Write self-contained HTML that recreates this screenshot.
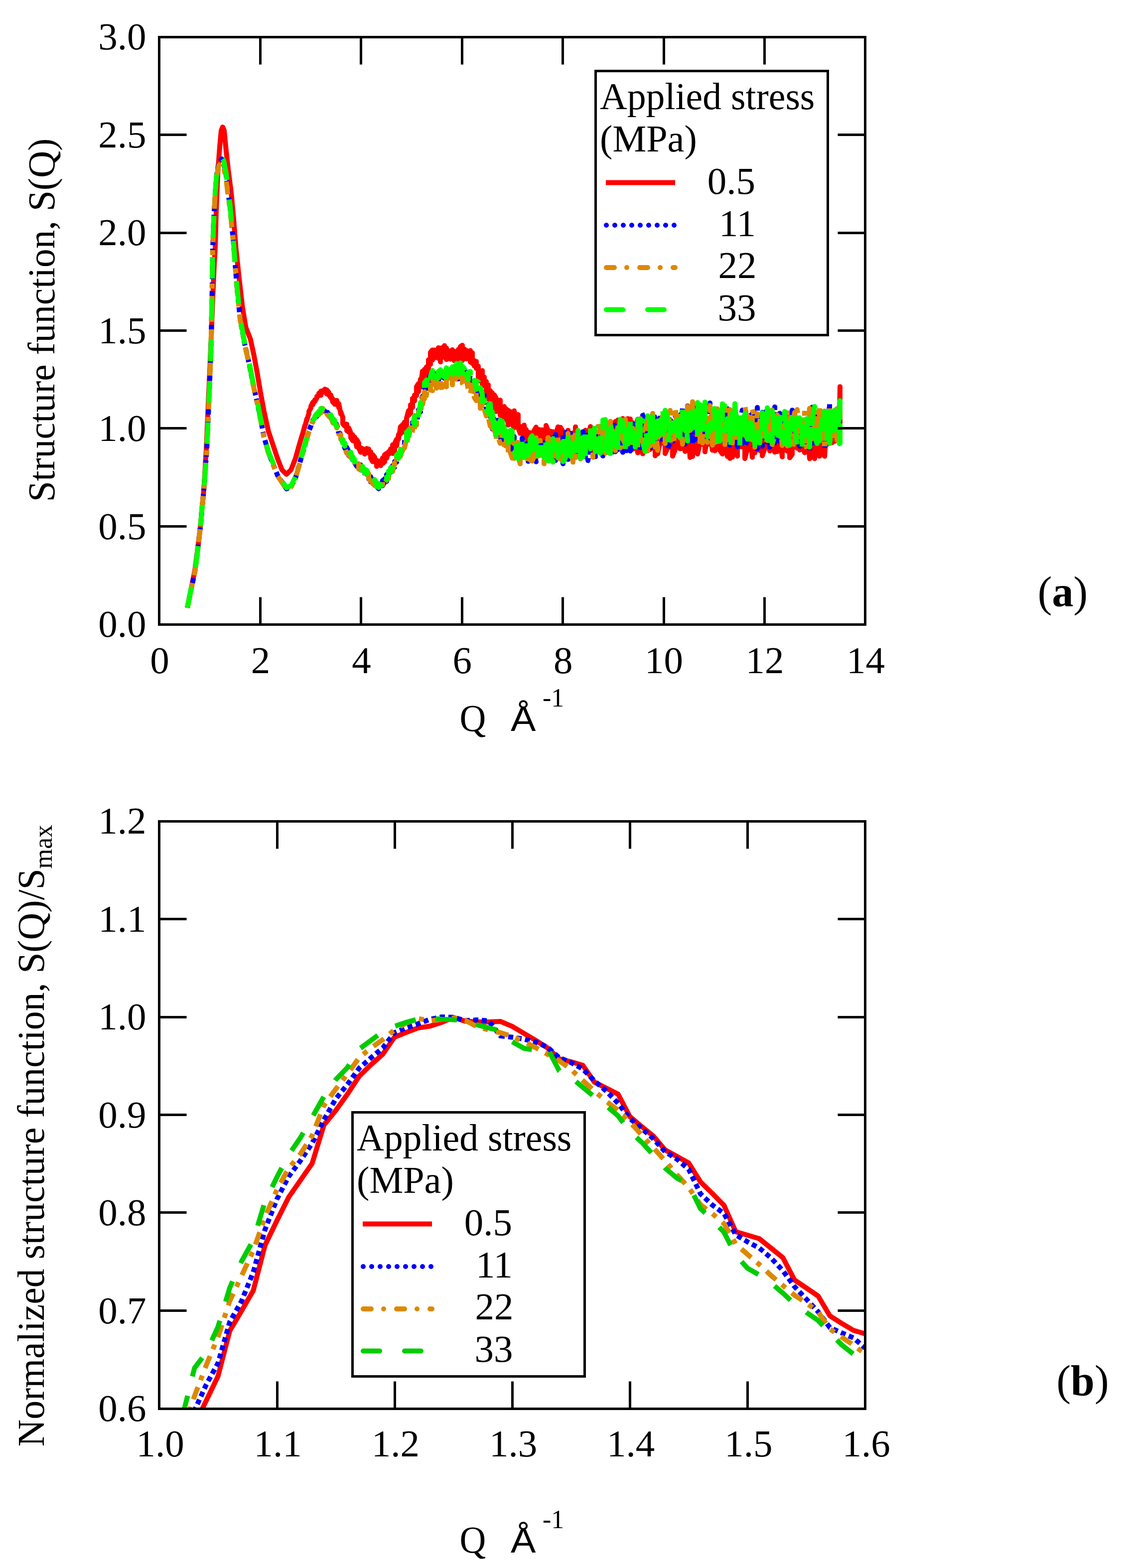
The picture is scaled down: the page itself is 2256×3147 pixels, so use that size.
<!DOCTYPE html><html><head><meta charset="utf-8"><title>S(Q)</title><style>html,body{margin:0;padding:0;background:#fff;overflow:hidden}svg{display:block}text{font-family:"Liberation Serif","Times New Roman",serif;fill:#000}</style></head><body>
<svg width="2256" height="3147" viewBox="0 0 2256 3147">
<defs><clipPath id="clipb"><rect x="319.5" y="1648.5" width="1417.0" height="1179.0"/></clipPath></defs>
<rect width="2256" height="3147" fill="#fff"/>
<path d="M376.0 1220.0 L379.0 1205.0 L383.0 1185.0 L387.0 1165.0 L391.0 1145.0 L395.0 1115.0 L399.5 1080.0 L403.0 1050.0 L405.5 1020.0 L408.5 990.0 L410.7 960.0 L412.2 930.0 L414.0 903.0 L418.5 800.0 L423.0 700.0 L427.0 600.0 L430.0 530.0 L432.0 497.0 L434.0 423.0 L437.0 349.0 L441.0 294.0 L444.0 262.0 L447.0 255.0 L450.0 262.0 L453.0 294.0 L458.0 340.0 L464.0 386.0 L469.0 440.0 L473.5 497.0 L479.8 557.0 L486.6 616.0 L493.4 657.0 L502.5 680.0 L509.3 711.0 L516.2 748.0 L523.0 788.0 L529.8 825.0 L538.9 866.0 L548.0 893.0 L557.0 920.0 L566.0 943.0 L575.0 952.0 L584.0 943.0 L593.0 920.0 L600.0 895.1 L604.0 881.5 L608.0 868.4 L612.0 853.7 L612.0 856.2 L616.0 840.3 L616.0 843.2 L620.0 829.4 L620.0 825.8 L624.0 818.8 L624.0 815.7 L628.0 807.3 L628.0 812.0 L632.0 802.3 L632.0 805.6 L636.0 798.6 L636.0 795.6 L640.0 793.8 L640.0 789.3 L644.0 793.5 L644.0 785.0 L648.0 787.5 L648.0 784.0 L652.0 785.5 L652.0 781.0 L656.0 791.0 L656.0 782.6 L660.0 787.7 L660.0 792.4 L664.0 798.3 L664.0 792.7 L668.0 807.3 L668.0 800.8 L672.0 811.5 L672.0 803.8 L676.0 811.3 L676.0 803.7 L680.0 818.3 L680.0 810.4 L684.0 830.7 L684.0 826.8 L688.0 837.6 L688.0 850.8 L692.0 855.0 L692.0 850.9 L696.0 851.5 L696.0 864.2 L700.0 867.1 L700.0 858.9 L704.0 868.4 L704.0 878.5 L708.0 884.4 L708.0 872.8 L712.0 884.8 L712.0 877.4 L716.0 896.9 L716.0 882.3 L720.0 889.4 L720.0 899.2 L724.0 907.8 L724.0 898.8 L728.0 900.5 L728.0 907.0 L732.0 902.4 L732.0 911.4 L736.0 900.1 L736.0 904.8 L740.0 901.2 L740.0 909.4 L744.0 906.6 L744.0 919.7 L748.0 926.5 L748.0 912.4 L752.0 917.5 L752.0 927.0 L756.0 923.7 L756.0 936.1 L760.0 931.5 L760.0 926.1 L764.0 925.1 L764.0 934.4 L768.0 918.8 L768.0 930.3 L772.0 926.9 L772.0 912.6 L776.0 910.0 L776.0 919.5 L780.0 906.3 L780.0 911.8 L784.0 908.9 L784.0 900.9 L788.0 910.2 L788.0 892.8 L792.0 904.4 L792.0 890.1 L796.0 881.7 L796.0 894.7 L800.0 871.8 L800.0 880.8 L804.0 856.0 L804.0 870.5 L808.0 852.1 L808.0 867.2 L812.0 847.0 L812.0 863.4 L816.0 852.1 L816.0 839.0 L820.0 824.2 L820.0 833.7 L824.0 829.3 L824.0 812.6 L828.0 817.7 L828.0 799.5 L832.0 804.8 L832.0 793.0 L836.0 793.9 L836.0 776.0 L840.0 769.8 L840.0 785.9 L844.0 761.1 L844.0 776.3 L848.0 744.9 L848.0 767.8 L852.0 741.3 L852.0 761.2 L856.0 736.2 L856.0 753.1 L860.0 744.2 L860.0 722.3 L864.0 731.1 L864.0 707.0 L868.0 702.4 L868.0 722.6 L872.0 702.5 L872.0 718.5 L876.0 714.8 L876.0 705.1 L880.0 719.0 L880.0 697.9 L884.0 726.2 L884.0 699.3 L888.0 697.7 L888.0 717.4 L892.0 713.2 L892.0 693.8 L896.0 721.6 L896.0 698.5 L900.0 711.9 L900.0 703.9 L904.0 720.8 L904.0 705.6 L908.0 702.0 L908.0 716.3 L912.0 705.1 L912.0 724.1 L916.0 705.9 L916.0 714.0 L920.0 720.3 L920.0 701.3 L924.0 725.6 L924.0 695.7 L928.0 693.0 L928.0 723.5 L932.0 700.6 L932.0 712.5 L936.0 703.0 L936.0 720.4 L940.0 718.5 L940.0 707.9 L944.0 703.5 L944.0 726.6 L948.0 708.2 L948.0 729.4 L952.0 723.7 L952.0 734.7 L956.0 725.4 L956.0 739.7 L960.0 734.8 L960.0 757.5 L964.0 746.4 L964.0 764.6 L968.0 743.8 L968.0 774.3 L972.0 756.8 L972.0 769.7 L976.0 765.6 L976.0 790.2 L980.0 772.6 L980.0 801.0 L984.0 784.0 L984.0 798.0 L988.0 788.4 L988.0 812.5 L992.0 821.9 L992.0 792.4 L996.0 799.7 L996.0 825.9 L1000.0 819.9 L1000.0 813.1 L1004.0 803.1 L1004.0 833.4 L1008.0 820.6 L1008.0 839.2 L1012.0 834.9 L1012.0 815.9 L1016.0 841.9 L1016.0 821.0 L1020.0 853.0 L1020.0 823.4 L1024.0 839.6 L1024.0 826.1 L1028.0 830.0 L1028.0 851.0 L1032.0 858.6 L1032.0 824.6 L1036.0 841.9 L1036.0 850.3 L1040.0 832.1 L1040.0 858.7 L1044.0 869.9 L1044.0 855.7 L1048.0 859.1 L1048.0 867.8 L1052.0 875.8 L1052.0 853.2 L1056.0 879.6 L1056.0 862.3 L1060.0 891.4 L1060.0 867.6 L1064.0 895.3 L1064.0 868.5 L1068.0 869.1 L1068.0 884.9 L1072.0 891.6 L1072.0 864.3 L1076.0 857.3 L1076.0 884.8 L1080.0 861.8 L1080.0 898.8 L1084.0 862.6 L1084.0 883.8 L1088.0 862.7 L1088.0 894.1 L1092.0 899.5 L1092.0 872.8 L1096.0 899.6 L1096.0 854.0 L1100.0 864.3 L1100.0 885.4 L1105.0 896.1 L1105.0 865.5 L1110.0 887.1 L1110.0 866.5 L1115.0 893.1 L1115.0 872.5 L1120.0 856.8 L1120.0 900.2 L1125.0 907.1 L1125.0 857.8 L1130.0 866.3 L1130.0 890.6 L1135.0 872.4 L1135.0 901.4 L1140.0 863.7 L1140.0 899.1 L1145.0 870.0 L1145.0 912.6 L1150.0 869.1 L1150.0 909.4 L1155.0 896.3 L1155.0 856.8 L1160.0 905.3 L1160.0 873.1 L1165.0 894.4 L1165.0 871.7 L1170.0 899.0 L1170.0 870.7 L1175.0 863.5 L1175.0 893.0 L1180.0 890.8 L1180.0 873.7 L1185.0 856.0 L1185.0 907.5 L1190.0 866.9 L1190.0 906.3 L1195.0 907.0 L1195.0 870.1 L1200.0 894.9 L1200.0 867.6 L1205.0 869.5 L1205.0 891.1 L1210.0 898.7 L1210.0 853.9 L1215.0 850.7 L1215.0 900.2 L1220.0 862.7 L1220.0 886.4 L1225.0 856.5 L1225.0 898.0 L1230.0 855.7 L1230.0 901.6 L1235.0 846.0 L1235.0 906.4 L1240.0 843.0 L1240.0 884.0 L1245.0 859.1 L1245.0 899.9 L1250.0 840.1 L1250.0 893.1 L1255.0 846.7 L1255.0 882.6 L1260.0 840.3 L1260.0 887.2 L1265.0 900.6 L1265.0 840.9 L1270.0 901.4 L1270.0 848.6 L1275.0 889.3 L1275.0 852.1 L1280.0 908.7 L1280.0 844.4 L1285.0 861.0 L1285.0 885.8 L1290.0 860.4 L1290.0 910.7 L1295.0 885.2 L1295.0 865.0 L1300.0 869.6 L1300.0 886.0 L1305.0 901.9 L1305.0 863.6 L1310.0 892.2 L1310.0 857.7 L1315.0 848.2 L1315.0 914.7 L1320.0 854.4 L1320.0 910.8 L1325.0 887.3 L1325.0 870.3 L1330.0 866.0 L1330.0 889.3 L1335.0 864.7 L1335.0 910.2 L1340.0 898.7 L1340.0 865.9 L1345.0 897.4 L1345.0 854.5 L1350.0 853.4 L1350.0 915.5 L1355.0 902.7 L1355.0 861.4 L1360.0 891.5 L1360.0 862.6 L1365.0 856.8 L1365.0 900.8 L1370.0 853.8 L1370.0 900.0 L1375.0 852.2 L1375.0 906.0 L1380.0 896.9 L1380.0 845.0 L1385.0 918.1 L1385.0 873.6 L1390.0 916.1 L1390.0 845.8 L1395.0 907.7 L1395.0 851.3 L1400.0 858.1 L1400.0 911.2 L1405.0 888.9 L1405.0 845.2 L1410.0 848.1 L1410.0 891.8 L1415.0 863.4 L1415.0 906.8 L1420.0 872.8 L1420.0 892.2 L1425.0 888.9 L1425.0 872.4 L1430.0 903.6 L1430.0 871.3 L1435.0 859.7 L1435.0 904.6 L1440.0 847.8 L1440.0 901.3 L1445.0 846.1 L1445.0 903.8 L1450.0 911.1 L1450.0 860.7 L1455.0 859.0 L1455.0 899.5 L1460.0 916.1 L1460.0 847.2 L1465.0 920.0 L1465.0 853.3 L1470.0 917.4 L1470.0 868.3 L1475.0 861.2 L1475.0 901.3 L1480.0 915.4 L1480.0 866.6 L1485.0 866.4 L1485.0 896.2 L1490.0 896.9 L1490.0 876.8 L1495.0 870.8 L1495.0 920.2 L1500.0 900.9 L1500.0 875.6 L1505.0 901.7 L1505.0 860.2 L1510.0 917.7 L1510.0 848.7 L1515.0 862.4 L1515.0 909.1 L1520.0 893.4 L1520.0 861.8 L1525.0 878.7 L1525.0 904.2 L1530.0 873.8 L1530.0 914.8 L1535.0 899.6 L1535.0 859.3 L1540.0 897.6 L1540.0 859.7 L1545.0 905.0 L1545.0 860.5 L1550.0 863.2 L1550.0 897.7 L1555.0 907.4 L1555.0 853.9 L1560.0 906.3 L1560.0 869.9 L1565.0 903.0 L1565.0 875.8 L1570.0 916.9 L1570.0 850.9 L1575.0 871.7 L1575.0 903.1 L1580.0 853.8 L1580.0 905.4 L1585.0 857.0 L1585.0 918.8 L1590.0 911.9 L1590.0 853.6 L1595.0 896.8 L1595.0 853.6 L1600.0 899.6 L1600.0 870.8 L1605.0 903.1 L1605.0 870.7 L1610.0 864.2 L1610.0 895.5 L1615.0 908.5 L1615.0 860.1 L1620.0 904.7 L1620.0 850.7 L1625.0 920.6 L1625.0 864.6 L1630.0 904.1 L1630.0 869.8 L1635.0 852.6 L1635.0 920.5 L1640.0 897.1 L1640.0 853.4 L1645.0 915.6 L1645.0 871.6 L1650.0 865.5 L1650.0 899.7 L1655.0 841.4 L1655.0 915.8 L1660.0 847.1 L1660.0 891.9 L1665.0 880.9 L1665.0 866.9 L1670.0 888.5 L1670.0 856.0 L1675.0 840.3 L1675.0 885.8 L1680.0 849.4 L1680.0 882.9 L1685.0 873.6 L1685.0 831.6 L1686.0 776.0 L1686.0 850.0" stroke="#ff0000" fill="none" stroke-width="10" stroke-linejoin="round" stroke-linecap="butt"/>
<path d="M376.0 1220.0 L379.0 1205.0 L383.0 1185.0 L387.5 1165.0 L391.5 1145.0 L395.5 1115.0 L399.5 1080.0 L403.0 1050.0 L405.5 1020.0 L408.5 990.0 L411.0 960.0 L413.0 930.0 L415.0 903.0 L419.5 800.0 L423.5 700.0 L425.5 600.0 L427.0 497.0 L429.0 441.0 L432.0 386.4 L435.0 350.0 L439.0 326.8 L445.0 319.0 L449.0 325.8 L454.0 352.2 L458.0 388.4 L461.7 413.6 L468.5 486.3 L475.3 572.5 L482.1 640.6 L491.2 690.6 L500.3 731.4 L509.3 776.8 L518.4 817.7 L529.8 876.7 L538.9 908.5 L548.0 931.2 L557.0 953.9 L566.1 967.5 L575.2 981.1 L584.3 976.6 L593.3 958.4 L600.0 935.1 L604.0 921.1 L608.0 907.1 L612.0 893.2 L616.0 879.2 L620.0 865.2 L624.0 855.2 L624.0 854.0 L628.0 845.1 L628.0 843.4 L632.0 837.7 L632.0 838.7 L636.0 832.5 L636.0 835.7 L640.0 827.8 L640.0 831.1 L644.0 826.7 L644.0 821.9 L648.0 819.2 L648.0 821.7 L652.0 825.2 L652.0 820.0 L656.0 822.6 L656.0 827.7 L660.0 830.5 L660.0 834.4 L664.0 838.8 L664.0 833.6 L668.0 840.3 L668.0 847.2 L672.0 852.1 L672.0 846.4 L676.0 858.8 L676.0 851.9 L680.0 870.6 L680.0 863.5 L684.0 873.4 L684.0 878.7 L688.0 887.7 L688.0 885.4 L692.0 899.4 L692.0 891.3 L696.0 906.4 L696.0 897.9 L700.0 906.6 L700.0 914.4 L704.0 917.4 L704.0 913.8 L708.0 923.2 L708.0 920.7 L712.0 924.1 L712.0 928.9 L716.0 935.8 L716.0 927.9 L720.0 940.6 L720.0 931.5 L724.0 933.3 L724.0 943.4 L728.0 939.3 L728.0 948.2 L732.0 949.6 L732.0 940.7 L736.0 947.9 L736.0 951.7 L740.0 953.6 L740.0 961.1 L744.0 956.7 L744.0 967.1 L748.0 962.0 L748.0 966.7 L752.0 968.6 L752.0 973.9 L756.0 970.0 L756.0 976.1 L760.0 980.9 L760.0 973.2 L764.0 971.6 L764.0 980.1 L768.0 964.2 L768.0 974.8 L772.0 967.4 L772.0 961.1 L776.0 966.2 L776.0 952.6 L780.0 955.0 L780.0 946.1 L784.0 948.1 L784.0 943.5 L788.0 942.4 L788.0 934.6 L792.0 937.8 L792.0 926.3 L796.0 927.6 L796.0 915.9 L800.0 924.1 L800.0 914.9 L804.0 902.2 L804.0 913.6 L808.0 895.3 L808.0 903.9 L812.0 890.3 L812.0 880.8 L816.0 876.6 L816.0 882.9 L820.0 879.1 L820.0 868.9 L824.0 871.8 L824.0 859.2 L828.0 847.4 L828.0 859.2 L832.0 852.3 L832.0 840.2 L836.0 828.0 L836.0 845.1 L840.0 830.7 L840.0 822.6 L844.0 826.8 L844.0 808.0 L848.0 795.5 L848.0 810.6 L852.0 789.2 L852.0 778.7 L856.0 786.8 L856.0 772.2 L860.0 777.6 L860.0 762.1 L864.0 753.0 L864.0 773.2 L868.0 764.2 L868.0 757.9 L872.0 768.7 L872.0 755.0 L876.0 746.2 L876.0 766.8 L880.0 753.7 L880.0 767.3 L884.0 767.6 L884.0 755.7 L888.0 761.4 L888.0 749.7 L892.0 748.2 L892.0 759.4 L896.0 746.5 L896.0 757.3 L900.0 743.4 L900.0 762.1 L904.0 762.3 L904.0 744.5 L908.0 743.7 L908.0 758.1 L912.0 735.9 L912.0 759.4 L916.0 751.5 L916.0 741.5 L920.0 760.5 L920.0 735.7 L924.0 740.8 L924.0 753.7 L928.0 748.1 L928.0 755.1 L932.0 749.4 L932.0 758.1 L936.0 746.8 L936.0 757.9 L940.0 752.8 L940.0 765.1 L944.0 753.3 L944.0 774.7 L948.0 779.9 L948.0 766.5 L952.0 772.7 L952.0 785.5 L956.0 777.9 L956.0 786.2 L960.0 780.2 L960.0 800.7 L964.0 801.9 L964.0 788.2 L968.0 793.4 L968.0 803.1 L972.0 793.6 L972.0 811.9 L976.0 822.8 L976.0 812.1 L980.0 811.5 L980.0 832.9 L984.0 836.9 L984.0 825.6 L988.0 860.9 L988.0 835.0 L992.0 841.8 L992.0 858.0 L996.0 873.3 L996.0 854.9 L1000.0 843.2 L1000.0 873.2 L1004.0 878.3 L1004.0 855.0 L1008.0 856.8 L1008.0 879.7 L1012.0 857.5 L1012.0 884.6 L1016.0 872.4 L1016.0 893.2 L1020.0 891.9 L1020.0 866.1 L1024.0 899.9 L1024.0 877.1 L1028.0 907.4 L1028.0 868.8 L1032.0 907.7 L1032.0 876.5 L1036.0 907.2 L1036.0 883.6 L1040.0 882.6 L1040.0 915.6 L1044.0 882.3 L1044.0 927.4 L1048.0 925.3 L1048.0 879.5 L1052.0 892.1 L1052.0 915.7 L1056.0 910.0 L1056.0 890.2 L1060.0 925.9 L1060.0 885.3 L1064.0 923.0 L1064.0 894.5 L1068.0 878.2 L1068.0 915.8 L1072.0 881.0 L1072.0 908.7 L1076.0 926.7 L1076.0 887.7 L1080.0 906.6 L1080.0 883.7 L1084.0 881.5 L1084.0 908.1 L1088.0 912.2 L1088.0 887.0 L1092.0 907.7 L1092.0 891.0 L1096.0 884.0 L1096.0 922.4 L1100.0 883.4 L1100.0 922.0 L1105.0 926.9 L1105.0 890.1 L1110.0 920.5 L1110.0 878.5 L1115.0 924.1 L1115.0 872.1 L1120.0 911.3 L1120.0 890.8 L1125.0 910.0 L1125.0 889.2 L1130.0 930.7 L1130.0 872.2 L1135.0 914.9 L1135.0 868.0 L1140.0 894.6 L1140.0 922.0 L1145.0 869.7 L1145.0 905.1 L1150.0 878.5 L1150.0 909.5 L1155.0 918.5 L1155.0 866.2 L1160.0 865.2 L1160.0 908.4 L1165.0 914.8 L1165.0 880.2 L1170.0 907.0 L1170.0 866.4 L1175.0 916.6 L1175.0 883.0 L1180.0 867.7 L1180.0 924.3 L1185.0 894.7 L1185.0 872.7 L1190.0 892.2 L1190.0 879.4 L1195.0 916.5 L1195.0 865.8 L1200.0 869.0 L1200.0 896.0 L1205.0 862.5 L1205.0 894.1 L1210.0 855.6 L1210.0 915.1 L1215.0 849.0 L1215.0 891.8 L1220.0 893.1 L1220.0 873.2 L1225.0 846.7 L1225.0 902.2 L1230.0 907.2 L1230.0 846.1 L1235.0 857.4 L1235.0 906.4 L1240.0 869.8 L1240.0 902.5 L1245.0 865.9 L1245.0 894.3 L1250.0 907.8 L1250.0 863.3 L1255.0 867.1 L1255.0 912.2 L1260.0 843.8 L1260.0 902.3 L1265.0 854.8 L1265.0 905.2 L1270.0 895.1 L1270.0 846.2 L1275.0 899.5 L1275.0 863.0 L1280.0 841.6 L1280.0 888.3 L1285.0 838.0 L1285.0 898.3 L1290.0 876.2 L1290.0 833.8 L1295.0 832.0 L1295.0 881.1 L1300.0 846.6 L1300.0 892.2 L1305.0 903.7 L1305.0 840.6 L1310.0 893.8 L1310.0 828.5 L1315.0 839.4 L1315.0 887.7 L1320.0 896.9 L1320.0 853.2 L1325.0 870.7 L1325.0 832.2 L1330.0 887.1 L1330.0 852.4 L1335.0 878.3 L1335.0 844.5 L1340.0 850.1 L1340.0 900.3 L1345.0 888.8 L1345.0 842.5 L1350.0 848.5 L1350.0 885.3 L1355.0 868.1 L1355.0 833.9 L1360.0 843.9 L1360.0 866.1 L1365.0 832.8 L1365.0 881.9 L1370.0 817.5 L1370.0 865.6 L1375.0 845.4 L1375.0 891.1 L1380.0 872.1 L1380.0 814.7 L1385.0 876.9 L1385.0 838.7 L1390.0 890.0 L1390.0 814.9 L1395.0 831.1 L1395.0 877.9 L1400.0 884.9 L1400.0 811.5 L1405.0 884.7 L1405.0 824.0 L1410.0 881.8 L1410.0 833.6 L1415.0 880.7 L1415.0 835.4 L1420.0 838.0 L1420.0 886.7 L1425.0 808.7 L1425.0 857.1 L1430.0 825.1 L1430.0 888.6 L1435.0 865.7 L1435.0 834.9 L1440.0 871.9 L1440.0 839.7 L1445.0 877.8 L1445.0 842.9 L1450.0 829.3 L1450.0 884.2 L1455.0 885.6 L1455.0 842.8 L1460.0 888.4 L1460.0 820.5 L1465.0 893.3 L1465.0 830.3 L1470.0 865.8 L1470.0 822.3 L1475.0 870.3 L1475.0 845.1 L1480.0 896.5 L1480.0 845.8 L1485.0 870.6 L1485.0 843.0 L1490.0 822.9 L1490.0 889.3 L1495.0 827.0 L1495.0 894.2 L1500.0 884.4 L1500.0 843.4 L1505.0 872.9 L1505.0 835.9 L1510.0 830.1 L1510.0 890.5 L1515.0 896.6 L1515.0 829.5 L1520.0 900.8 L1520.0 817.8 L1525.0 848.8 L1525.0 894.6 L1530.0 895.3 L1530.0 827.5 L1535.0 877.2 L1535.0 834.1 L1540.0 820.9 L1540.0 888.6 L1545.0 897.4 L1545.0 820.4 L1550.0 818.6 L1550.0 880.7 L1555.0 888.7 L1555.0 816.7 L1560.0 889.4 L1560.0 840.5 L1565.0 886.2 L1565.0 829.4 L1570.0 880.5 L1570.0 848.2 L1575.0 849.6 L1575.0 892.4 L1580.0 894.3 L1580.0 847.8 L1585.0 890.9 L1585.0 832.0 L1590.0 877.4 L1590.0 823.3 L1595.0 877.5 L1595.0 837.5 L1600.0 845.5 L1600.0 884.3 L1605.0 842.6 L1605.0 895.4 L1610.0 879.4 L1610.0 852.1 L1615.0 890.7 L1615.0 842.1 L1620.0 847.8 L1620.0 892.6 L1625.0 848.1 L1625.0 904.2 L1630.0 817.2 L1630.0 893.6 L1635.0 821.2 L1635.0 881.4 L1640.0 874.8 L1640.0 829.3 L1645.0 868.4 L1645.0 835.8 L1650.0 884.1 L1650.0 830.4 L1655.0 841.6 L1655.0 899.5 L1660.0 844.7 L1660.0 876.7 L1665.0 810.6 L1665.0 881.9 L1670.0 823.5 L1670.0 867.2 L1675.0 859.3 L1675.0 842.1 L1680.0 820.6 L1680.0 861.9 L1685.0 824.6 L1685.0 885.6" stroke="#0000ff" stroke-dasharray="10 7" fill="none" stroke-width="10" stroke-linejoin="round" stroke-linecap="butt"/>
<path d="M376.0 1220.0 L379.0 1205.0 L383.0 1185.0 L387.5 1165.0 L391.5 1145.0 L395.5 1115.0 L399.5 1080.0 L403.0 1050.0 L405.5 1020.0 L408.5 990.0 L411.0 960.0 L413.0 930.0 L415.0 903.0 L419.5 800.0 L423.5 700.0 L425.5 600.0 L427.0 497.0 L429.0 441.0 L432.0 387.6 L435.0 353.0 L439.0 332.2 L445.0 327.0 L449.0 335.4 L454.0 360.6 L458.0 395.2 L461.7 418.8 L468.5 488.1 L475.3 573.5 L482.1 641.6 L491.2 691.6 L500.3 732.4 L509.3 777.8 L518.4 818.7 L529.8 877.7 L538.9 909.5 L548.0 932.2 L557.0 954.9 L566.1 968.5 L575.2 982.1 L584.3 977.6 L593.3 959.4 L600.0 936.1 L604.0 922.1 L608.0 908.1 L612.0 894.2 L616.0 880.2 L620.0 866.2 L624.0 856.0 L624.0 855.1 L628.0 845.2 L628.0 846.8 L632.0 840.3 L632.0 838.5 L636.0 835.6 L636.0 833.9 L640.0 832.1 L640.0 829.0 L644.0 828.5 L644.0 824.6 L648.0 819.9 L648.0 823.5 L652.0 822.7 L652.0 827.5 L656.0 824.7 L656.0 830.5 L660.0 835.7 L660.0 831.7 L664.0 840.4 L664.0 837.5 L668.0 848.5 L668.0 843.0 L672.0 852.2 L672.0 846.8 L676.0 858.9 L676.0 853.2 L680.0 863.1 L680.0 871.0 L684.0 872.8 L684.0 881.6 L688.0 884.8 L688.0 892.1 L692.0 893.2 L692.0 898.9 L696.0 909.7 L696.0 902.4 L700.0 906.5 L700.0 913.5 L704.0 918.4 L704.0 911.8 L708.0 916.8 L708.0 926.5 L712.0 933.7 L712.0 926.5 L716.0 936.6 L716.0 928.1 L720.0 931.0 L720.0 941.5 L724.0 938.9 L724.0 943.3 L728.0 938.2 L728.0 946.2 L732.0 950.2 L732.0 943.8 L736.0 946.1 L736.0 957.6 L740.0 950.6 L740.0 959.9 L744.0 965.8 L744.0 957.6 L748.0 970.8 L748.0 960.7 L752.0 967.8 L752.0 974.4 L756.0 975.8 L756.0 970.0 L760.0 972.8 L760.0 982.1 L764.0 977.6 L764.0 970.9 L768.0 973.8 L768.0 966.8 L772.0 961.8 L772.0 968.7 L776.0 963.5 L776.0 957.6 L780.0 960.6 L780.0 948.7 L784.0 954.1 L784.0 940.1 L788.0 933.0 L788.0 946.1 L792.0 929.0 L792.0 936.8 L796.0 930.5 L796.0 922.1 L800.0 916.7 L800.0 923.8 L804.0 904.9 L804.0 915.1 L808.0 896.9 L808.0 904.4 L812.0 888.8 L812.0 898.9 L816.0 880.8 L816.0 892.6 L820.0 871.6 L820.0 879.4 L824.0 858.6 L824.0 873.5 L828.0 865.1 L828.0 853.1 L832.0 862.8 L832.0 849.9 L836.0 853.2 L836.0 841.8 L840.0 837.7 L840.0 826.0 L844.0 821.8 L844.0 830.2 L848.0 797.7 L848.0 813.1 L852.0 786.2 L852.0 800.1 L856.0 780.3 L856.0 793.9 L860.0 789.2 L860.0 772.7 L864.0 772.2 L864.0 782.7 L868.0 784.0 L868.0 765.6 L872.0 771.8 L872.0 764.7 L876.0 778.9 L876.0 762.4 L880.0 780.9 L880.0 761.1 L884.0 761.2 L884.0 777.7 L888.0 777.5 L888.0 760.3 L892.0 773.9 L892.0 764.9 L896.0 776.3 L896.0 756.8 L900.0 769.8 L900.0 758.1 L904.0 764.8 L904.0 751.0 L908.0 757.1 L908.0 772.5 L912.0 753.8 L912.0 771.4 L916.0 751.0 L916.0 766.0 L920.0 767.1 L920.0 751.0 L924.0 750.5 L924.0 763.2 L928.0 754.7 L928.0 769.3 L932.0 775.8 L932.0 760.0 L936.0 771.3 L936.0 758.8 L940.0 784.1 L940.0 769.1 L944.0 773.4 L944.0 789.3 L948.0 772.7 L948.0 792.6 L952.0 778.9 L952.0 797.8 L956.0 804.1 L956.0 785.1 L960.0 793.7 L960.0 808.8 L964.0 800.1 L964.0 819.4 L968.0 812.3 L968.0 795.5 L972.0 809.1 L972.0 821.4 L976.0 834.9 L976.0 813.3 L980.0 814.5 L980.0 837.0 L984.0 855.1 L984.0 823.2 L988.0 859.5 L988.0 834.9 L992.0 864.4 L992.0 846.1 L996.0 886.1 L996.0 862.9 L1000.0 863.1 L1000.0 878.3 L1004.0 889.8 L1004.0 849.8 L1008.0 885.0 L1008.0 861.0 L1012.0 874.8 L1012.0 897.5 L1016.0 905.5 L1016.0 871.6 L1020.0 909.3 L1020.0 873.9 L1024.0 884.5 L1024.0 907.4 L1028.0 919.4 L1028.0 891.4 L1032.0 889.3 L1032.0 919.9 L1036.0 890.0 L1036.0 912.9 L1040.0 879.7 L1040.0 916.6 L1044.0 930.8 L1044.0 901.7 L1048.0 887.2 L1048.0 918.2 L1052.0 921.4 L1052.0 888.5 L1056.0 900.6 L1056.0 930.2 L1060.0 925.6 L1060.0 902.9 L1064.0 897.1 L1064.0 920.5 L1068.0 900.8 L1068.0 925.3 L1072.0 916.6 L1072.0 895.0 L1076.0 922.8 L1076.0 878.7 L1080.0 891.6 L1080.0 915.1 L1084.0 913.4 L1084.0 884.1 L1088.0 914.4 L1088.0 889.9 L1092.0 895.9 L1092.0 930.7 L1096.0 885.2 L1096.0 925.7 L1100.0 878.1 L1100.0 922.7 L1105.0 872.6 L1105.0 931.2 L1110.0 918.5 L1110.0 890.0 L1115.0 911.6 L1115.0 882.9 L1120.0 874.8 L1120.0 919.5 L1125.0 893.2 L1125.0 929.6 L1130.0 888.2 L1130.0 925.3 L1135.0 874.5 L1135.0 908.1 L1140.0 907.2 L1140.0 869.9 L1145.0 915.9 L1145.0 890.4 L1150.0 927.5 L1150.0 876.8 L1155.0 918.5 L1155.0 866.0 L1160.0 904.2 L1160.0 889.6 L1165.0 921.1 L1165.0 871.8 L1170.0 877.2 L1170.0 906.8 L1175.0 907.4 L1175.0 878.3 L1180.0 899.0 L1180.0 878.0 L1185.0 904.7 L1185.0 872.1 L1190.0 873.8 L1190.0 917.9 L1195.0 861.1 L1195.0 904.1 L1200.0 905.5 L1200.0 855.8 L1205.0 855.9 L1205.0 894.1 L1210.0 873.2 L1210.0 887.9 L1215.0 862.6 L1215.0 909.4 L1220.0 866.8 L1220.0 898.4 L1225.0 845.5 L1225.0 889.3 L1230.0 896.1 L1230.0 863.3 L1235.0 904.3 L1235.0 858.6 L1240.0 893.9 L1240.0 851.6 L1245.0 899.0 L1245.0 840.2 L1250.0 856.0 L1250.0 881.4 L1255.0 891.3 L1255.0 841.6 L1260.0 897.1 L1260.0 864.2 L1265.0 898.1 L1265.0 856.5 L1270.0 878.7 L1270.0 859.6 L1275.0 878.4 L1275.0 860.8 L1280.0 844.9 L1280.0 899.9 L1285.0 840.2 L1285.0 884.9 L1290.0 863.2 L1290.0 881.7 L1295.0 906.1 L1295.0 861.0 L1300.0 838.2 L1300.0 904.9 L1305.0 856.8 L1305.0 895.1 L1310.0 880.9 L1310.0 829.7 L1315.0 897.1 L1315.0 845.6 L1320.0 903.7 L1320.0 844.7 L1325.0 874.3 L1325.0 852.6 L1330.0 834.2 L1330.0 869.7 L1335.0 890.1 L1335.0 827.6 L1340.0 839.2 L1340.0 879.2 L1345.0 823.8 L1345.0 889.4 L1350.0 848.7 L1350.0 874.9 L1355.0 888.7 L1355.0 816.2 L1360.0 864.0 L1360.0 834.4 L1365.0 879.0 L1365.0 835.3 L1370.0 891.3 L1370.0 841.7 L1375.0 864.3 L1375.0 839.5 L1380.0 815.6 L1380.0 867.4 L1385.0 821.0 L1385.0 863.9 L1390.0 806.2 L1390.0 858.8 L1395.0 824.4 L1395.0 860.4 L1400.0 838.6 L1400.0 884.1 L1405.0 891.1 L1405.0 822.5 L1410.0 814.7 L1410.0 889.0 L1415.0 840.2 L1415.0 879.9 L1420.0 887.8 L1420.0 831.5 L1425.0 876.4 L1425.0 814.1 L1430.0 893.4 L1430.0 826.0 L1435.0 888.1 L1435.0 822.3 L1440.0 820.4 L1440.0 873.9 L1445.0 820.8 L1445.0 874.6 L1450.0 866.7 L1450.0 841.4 L1455.0 892.1 L1455.0 814.9 L1460.0 882.6 L1460.0 844.6 L1465.0 821.8 L1465.0 878.4 L1470.0 889.3 L1470.0 842.7 L1475.0 888.7 L1475.0 829.1 L1480.0 830.9 L1480.0 871.4 L1485.0 839.6 L1485.0 874.0 L1490.0 848.6 L1490.0 879.8 L1495.0 877.3 L1495.0 814.6 L1500.0 844.9 L1500.0 881.6 L1505.0 881.2 L1505.0 828.0 L1510.0 882.9 L1510.0 820.5 L1515.0 840.0 L1515.0 897.4 L1520.0 830.5 L1520.0 871.6 L1525.0 846.3 L1525.0 883.2 L1530.0 852.3 L1530.0 872.4 L1535.0 832.2 L1535.0 881.6 L1540.0 841.2 L1540.0 884.2 L1545.0 827.5 L1545.0 880.9 L1550.0 822.9 L1550.0 892.3 L1555.0 874.4 L1555.0 842.5 L1560.0 832.6 L1560.0 885.2 L1565.0 878.4 L1565.0 848.5 L1570.0 894.0 L1570.0 843.8 L1575.0 855.2 L1575.0 874.2 L1580.0 894.8 L1580.0 821.2 L1585.0 835.0 L1585.0 875.6 L1590.0 845.9 L1590.0 901.8 L1595.0 877.5 L1595.0 827.7 L1600.0 879.5 L1600.0 822.1 L1605.0 856.6 L1605.0 884.0 L1610.0 849.9 L1610.0 887.1 L1615.0 823.9 L1615.0 880.1 L1620.0 903.5 L1620.0 839.0 L1625.0 819.5 L1625.0 887.2 L1630.0 876.7 L1630.0 835.0 L1635.0 841.7 L1635.0 878.7 L1640.0 884.2 L1640.0 821.1 L1645.0 880.0 L1645.0 814.7 L1650.0 875.5 L1650.0 846.0 L1655.0 897.8 L1655.0 825.1 L1660.0 828.9 L1660.0 879.5 L1665.0 812.9 L1665.0 874.5 L1670.0 845.3 L1670.0 864.9 L1675.0 881.3 L1675.0 825.6 L1680.0 883.2 L1680.0 820.7 L1685.0 840.8 L1685.0 875.7" stroke="#dd8800" stroke-dasharray="26 15 10 16" fill="none" stroke-width="10" stroke-linejoin="round" stroke-linecap="butt"/>
<path d="M376.0 1220.0 L379.0 1205.0 L383.0 1185.0 L387.5 1165.0 L391.5 1145.0 L395.5 1115.0 L399.5 1080.0 L403.0 1050.0 L405.5 1020.0 L408.5 990.0 L411.0 960.0 L413.0 930.0 L415.0 903.0 L419.5 800.0 L423.5 700.0 L425.5 600.0 L427.0 497.0 L429.0 441.0 L432.0 386.0 L435.0 349.0 L439.0 325.0 L445.0 316.0 L449.0 322.0 L454.0 349.0 L458.0 386.0 L461.7 411.6 L468.5 484.3 L475.3 570.5 L482.1 638.6 L491.2 688.6 L500.3 729.4 L509.3 774.8 L518.4 815.7 L529.8 874.7 L538.9 906.5 L548.0 929.2 L557.0 951.9 L566.1 965.5 L575.2 979.1 L584.3 974.6 L593.3 956.4 L600.0 933.1 L604.0 919.1 L608.0 905.1 L612.0 891.2 L616.0 877.2 L620.0 863.2 L624.0 854.1 L624.0 851.7 L628.0 841.4 L628.0 843.0 L632.0 837.8 L632.0 835.4 L636.0 829.8 L636.0 833.5 L640.0 829.1 L640.0 825.5 L644.0 824.1 L644.0 819.9 L648.0 819.1 L648.0 816.0 L652.0 818.7 L652.0 824.4 L656.0 826.3 L656.0 822.0 L660.0 827.6 L660.0 833.3 L664.0 837.9 L664.0 832.5 L668.0 844.2 L668.0 839.7 L672.0 844.0 L672.0 850.0 L676.0 855.9 L676.0 850.7 L680.0 861.7 L680.0 865.9 L684.0 876.0 L684.0 872.7 L688.0 889.3 L688.0 881.9 L692.0 895.4 L692.0 889.2 L696.0 899.4 L696.0 906.5 L700.0 901.7 L700.0 910.2 L704.0 917.1 L704.0 907.7 L708.0 922.6 L708.0 917.0 L712.0 926.8 L712.0 922.3 L716.0 927.1 L716.0 935.2 L720.0 929.0 L720.0 938.5 L724.0 941.1 L724.0 935.9 L728.0 936.1 L728.0 944.9 L732.0 941.5 L732.0 949.2 L736.0 951.0 L736.0 943.5 L740.0 951.4 L740.0 957.3 L744.0 954.5 L744.0 959.2 L748.0 957.8 L748.0 964.5 L752.0 971.0 L752.0 962.4 L756.0 969.4 L756.0 975.6 L760.0 978.6 L760.0 970.2 L764.0 974.5 L764.0 966.8 L768.0 964.4 L768.0 969.5 L772.0 965.9 L772.0 955.3 L776.0 951.1 L776.0 962.7 L780.0 953.4 L780.0 946.1 L784.0 946.8 L784.0 938.5 L788.0 939.0 L788.0 929.5 L792.0 922.5 L792.0 932.6 L796.0 922.3 L796.0 913.2 L800.0 919.9 L800.0 909.4 L804.0 911.7 L804.0 903.4 L808.0 887.2 L808.0 897.1 L812.0 894.0 L812.0 882.4 L816.0 884.2 L816.0 867.4 L820.0 875.6 L820.0 863.1 L824.0 863.6 L824.0 850.0 L828.0 842.9 L828.0 855.7 L832.0 835.5 L832.0 852.5 L836.0 840.9 L836.0 825.2 L840.0 818.5 L840.0 833.5 L844.0 808.1 L844.0 817.4 L848.0 804.6 L848.0 785.7 L852.0 788.5 L852.0 767.9 L856.0 762.7 L856.0 773.3 L860.0 751.6 L860.0 772.3 L864.0 769.4 L864.0 756.0 L868.0 743.6 L868.0 757.5 L872.0 746.8 L872.0 755.9 L876.0 740.5 L876.0 759.6 L880.0 758.3 L880.0 745.5 L884.0 753.2 L884.0 742.0 L888.0 756.1 L888.0 739.7 L892.0 736.5 L892.0 756.3 L896.0 756.9 L896.0 738.2 L900.0 753.0 L900.0 734.1 L904.0 731.0 L904.0 745.1 L908.0 736.2 L908.0 751.0 L912.0 729.5 L912.0 743.4 L916.0 729.6 L916.0 747.0 L920.0 751.4 L920.0 732.6 L924.0 751.4 L924.0 728.5 L928.0 748.0 L928.0 735.0 L932.0 739.6 L932.0 756.2 L936.0 738.7 L936.0 752.2 L940.0 762.2 L940.0 747.1 L944.0 745.4 L944.0 762.1 L948.0 765.2 L948.0 759.1 L952.0 772.4 L952.0 763.6 L956.0 781.3 L956.0 764.4 L960.0 766.7 L960.0 788.3 L964.0 793.9 L964.0 778.2 L968.0 790.4 L968.0 805.4 L972.0 806.3 L972.0 792.9 L976.0 793.0 L976.0 823.4 L980.0 828.3 L980.0 814.0 L984.0 846.1 L984.0 810.3 L988.0 857.2 L988.0 826.8 L992.0 858.8 L992.0 833.7 L996.0 873.0 L996.0 840.3 L1000.0 856.9 L1000.0 869.2 L1004.0 870.8 L1004.0 843.2 L1008.0 884.1 L1008.0 845.5 L1012.0 892.5 L1012.0 857.7 L1016.0 900.0 L1016.0 865.4 L1020.0 874.6 L1020.0 905.7 L1024.0 899.0 L1024.0 864.0 L1028.0 864.4 L1028.0 896.2 L1032.0 885.8 L1032.0 903.8 L1036.0 918.4 L1036.0 881.1 L1040.0 920.7 L1040.0 893.2 L1044.0 906.9 L1044.0 885.1 L1048.0 880.9 L1048.0 912.4 L1052.0 918.4 L1052.0 881.0 L1056.0 881.2 L1056.0 913.1 L1060.0 913.0 L1060.0 879.6 L1064.0 907.1 L1064.0 881.1 L1068.0 874.6 L1068.0 908.3 L1072.0 881.0 L1072.0 926.2 L1076.0 884.2 L1076.0 907.0 L1080.0 881.4 L1080.0 914.6 L1084.0 908.1 L1084.0 889.9 L1088.0 876.6 L1088.0 905.5 L1092.0 917.9 L1092.0 881.9 L1096.0 920.3 L1096.0 884.7 L1100.0 924.8 L1100.0 873.7 L1105.0 869.5 L1105.0 919.3 L1110.0 927.5 L1110.0 880.3 L1115.0 903.2 L1115.0 884.9 L1120.0 867.4 L1120.0 916.8 L1125.0 875.3 L1125.0 908.1 L1130.0 885.9 L1130.0 926.4 L1135.0 918.9 L1135.0 886.0 L1140.0 904.7 L1140.0 878.3 L1145.0 915.7 L1145.0 890.4 L1150.0 905.6 L1150.0 890.8 L1155.0 888.3 L1155.0 907.7 L1160.0 923.3 L1160.0 864.1 L1165.0 919.8 L1165.0 878.8 L1170.0 916.7 L1170.0 877.8 L1175.0 917.1 L1175.0 868.0 L1180.0 870.4 L1180.0 892.8 L1185.0 901.1 L1185.0 852.2 L1190.0 860.5 L1190.0 890.5 L1195.0 846.8 L1195.0 906.8 L1200.0 897.2 L1200.0 864.1 L1205.0 872.4 L1205.0 909.7 L1210.0 895.4 L1210.0 843.2 L1215.0 842.0 L1215.0 902.6 L1220.0 863.5 L1220.0 907.4 L1225.0 910.4 L1225.0 844.7 L1230.0 885.8 L1230.0 859.7 L1235.0 867.4 L1235.0 894.5 L1240.0 840.4 L1240.0 898.1 L1245.0 841.6 L1245.0 886.4 L1250.0 886.4 L1250.0 847.6 L1255.0 905.2 L1255.0 851.0 L1260.0 891.5 L1260.0 843.0 L1265.0 879.2 L1265.0 835.1 L1270.0 863.7 L1270.0 887.3 L1275.0 856.5 L1275.0 897.2 L1280.0 886.4 L1280.0 832.6 L1285.0 897.1 L1285.0 842.2 L1290.0 844.5 L1290.0 887.8 L1295.0 906.3 L1295.0 854.9 L1300.0 893.6 L1300.0 834.4 L1305.0 847.2 L1305.0 889.8 L1310.0 836.6 L1310.0 891.5 L1315.0 824.6 L1315.0 900.5 L1320.0 883.8 L1320.0 848.0 L1325.0 873.4 L1325.0 843.3 L1330.0 871.0 L1330.0 821.9 L1335.0 871.5 L1335.0 823.6 L1340.0 837.6 L1340.0 890.9 L1345.0 866.3 L1345.0 845.3 L1350.0 846.6 L1350.0 875.4 L1355.0 846.0 L1355.0 877.9 L1360.0 843.6 L1360.0 883.5 L1365.0 842.6 L1365.0 892.5 L1370.0 865.0 L1370.0 816.2 L1375.0 860.0 L1375.0 816.3 L1380.0 885.0 L1380.0 835.0 L1385.0 828.2 L1385.0 880.2 L1390.0 838.3 L1390.0 874.0 L1395.0 877.8 L1395.0 812.4 L1400.0 869.4 L1400.0 808.1 L1405.0 854.4 L1405.0 812.2 L1410.0 876.1 L1410.0 824.2 L1415.0 854.8 L1415.0 806.9 L1420.0 816.1 L1420.0 876.1 L1425.0 832.1 L1425.0 865.7 L1430.0 855.5 L1430.0 809.8 L1435.0 830.8 L1435.0 881.2 L1440.0 824.7 L1440.0 886.2 L1445.0 832.8 L1445.0 885.4 L1450.0 871.4 L1450.0 810.4 L1455.0 814.9 L1455.0 865.6 L1460.0 840.3 L1460.0 882.7 L1465.0 887.9 L1465.0 841.3 L1470.0 872.2 L1470.0 809.1 L1475.0 870.7 L1475.0 810.2 L1480.0 866.7 L1480.0 836.9 L1485.0 897.3 L1485.0 846.9 L1490.0 822.5 L1490.0 869.6 L1495.0 890.6 L1495.0 829.6 L1500.0 881.6 L1500.0 825.2 L1505.0 837.7 L1505.0 866.4 L1510.0 827.8 L1510.0 880.7 L1515.0 850.0 L1515.0 893.0 L1520.0 868.7 L1520.0 847.0 L1525.0 889.2 L1525.0 836.9 L1530.0 828.4 L1530.0 877.1 L1535.0 876.5 L1535.0 848.2 L1540.0 888.4 L1540.0 818.4 L1545.0 845.0 L1545.0 884.1 L1550.0 887.5 L1550.0 824.7 L1555.0 868.1 L1555.0 846.4 L1560.0 832.7 L1560.0 868.1 L1565.0 896.4 L1565.0 849.2 L1570.0 827.7 L1570.0 878.9 L1575.0 890.3 L1575.0 825.8 L1580.0 896.5 L1580.0 831.7 L1585.0 893.6 L1585.0 850.8 L1590.0 838.5 L1590.0 874.7 L1595.0 874.2 L1595.0 848.6 L1600.0 894.5 L1600.0 839.3 L1605.0 838.7 L1605.0 884.3 L1610.0 897.1 L1610.0 853.2 L1615.0 868.3 L1615.0 842.6 L1620.0 840.3 L1620.0 875.4 L1625.0 846.3 L1625.0 897.6 L1630.0 878.1 L1630.0 844.1 L1635.0 815.9 L1635.0 877.8 L1640.0 890.2 L1640.0 849.2 L1645.0 884.7 L1645.0 838.1 L1650.0 862.0 L1650.0 842.6 L1655.0 878.1 L1655.0 813.9 L1660.0 814.6 L1660.0 894.8 L1665.0 819.5 L1665.0 890.3 L1670.0 863.0 L1670.0 833.1 L1675.0 871.3 L1675.0 823.3 L1680.0 826.3 L1680.0 879.4 L1685.0 820.2 L1685.0 890.7 L1686.0 804.0 L1686.0 896.0" stroke="#00ff00" stroke-dasharray="43 40" fill="none" stroke-width="10" stroke-linejoin="round" stroke-linecap="butt"/>
<rect x="319.5" y="74.5" width="1417.0" height="1179.0" fill="none" stroke="#000" stroke-width="5"/>
<path d="M319.5 1056.5H374.5M1736.5 1056.5H1681.5M319.5 859.5H374.5M1736.5 859.5H1681.5M319.5 663.5H374.5M1736.5 663.5H1681.5M319.5 467.5H374.5M1736.5 467.5H1681.5M319.5 270.5H374.5M1736.5 270.5H1681.5M522.5 1253.5V1198.5M522.5 74.5V129.5M724.5 1253.5V1198.5M724.5 74.5V129.5M927.5 1253.5V1198.5M927.5 74.5V129.5M1129.5 1253.5V1198.5M1129.5 74.5V129.5M1332.5 1253.5V1198.5M1332.5 74.5V129.5M1534.5 1253.5V1198.5M1534.5 74.5V129.5" stroke="#000" stroke-width="5" fill="none"/>
<text x="293.5" y="1278.0" font-size="77" text-anchor="end">0.0</text>
<text x="293.5" y="1081.5" font-size="77" text-anchor="end">0.5</text>
<text x="293.5" y="885.0" font-size="77" text-anchor="end">1.0</text>
<text x="293.5" y="688.5" font-size="77" text-anchor="end">1.5</text>
<text x="293.5" y="492.0" font-size="77" text-anchor="end">2.0</text>
<text x="293.5" y="295.5" font-size="77" text-anchor="end">2.5</text>
<text x="293.5" y="99.0" font-size="77" text-anchor="end">3.0</text>
<text x="320.5" y="1350.5" font-size="77" text-anchor="middle">0</text>
<text x="522.9" y="1350.5" font-size="77" text-anchor="middle">2</text>
<text x="725.4" y="1350.5" font-size="77" text-anchor="middle">4</text>
<text x="927.8" y="1350.5" font-size="77" text-anchor="middle">6</text>
<text x="1130.2" y="1350.5" font-size="77" text-anchor="middle">8</text>
<text x="1332.6" y="1350.5" font-size="77" text-anchor="middle">10</text>
<text x="1535.1" y="1350.5" font-size="77" text-anchor="middle">12</text>
<text x="1737.5" y="1350.5" font-size="77" text-anchor="middle">14</text>
<text transform="translate(109,642.5) rotate(-90) scale(0.978,1)" font-size="77" text-anchor="middle">Structure function, S(Q)</text>
<text transform="translate(922.5,1467) scale(0.95,1)" font-size="77">Q</text>
<text transform="translate(1025,1467) scale(1.08,1)" font-size="70" style="font-family:'Liberation Sans',sans-serif">&#197;</text>
<text x="1089" y="1418" font-size="52">-1</text>
<text x="2133" y="1217" font-size="86" text-anchor="middle">(<tspan font-weight="bold">a</tspan>)</text>
<g transform="translate(0,0)">
<rect x="1195.5" y="142.5" width="466" height="530" fill="#fff" stroke="#000" stroke-width="5"/>
<text transform="translate(1204,219) scale(0.984,1)" font-size="77">Applied stress</text>
<text transform="translate(1204,304) scale(0.99,1)" font-size="77">(MPa)</text>
<path d="M1216 366.5H1355" stroke="#ff0000" stroke-width="10"/>
<path d="M1217 452H1355" stroke="#0000ff" stroke-width="10" stroke-linecap="round" stroke-dasharray="0 17"/>
<path d="M1217 537H1355" stroke="#dd8800" stroke-width="10" stroke-linecap="round" stroke-dasharray="16 25 0 26"/>
<path d="M1217 621.5H1355" stroke="#00ff00" stroke-width="10" stroke-linecap="round" stroke-dasharray="33 50"/>
<text x="1516" y="389" font-size="77" text-anchor="end">0.5</text>
<text x="1480" y="474" font-size="77" text-anchor="middle">11</text>
<text x="1480" y="558" font-size="77" text-anchor="middle">22</text>
<text x="1479" y="643" font-size="77" text-anchor="middle">33</text>
</g>
<g clip-path="url(#clipb)">
<path d="M390.4 2860.0 L414.0 2811.0 L437.6 2762.0 L461.2 2671.0 L484.8 2631.0 L508.4 2590.0 L532.0 2499.0 L555.7 2450.0 L579.3 2403.0 L602.9 2369.0 L626.5 2335.0 L650.1 2258.0 L673.8 2229.0 L697.4 2196.0 L721.0 2160.0 L744.6 2137.0 L768.2 2116.0 L791.8 2081.5 L815.5 2072.0 L839.1 2063.0 L862.7 2059.5 L886.3 2052.0 L909.9 2042.0 L933.5 2049.5 L957.1 2050.8 L980.8 2051.0 L1004.4 2050.0 L1028.0 2060.0 L1051.6 2074.0 L1075.2 2088.0 L1098.8 2103.0 L1122.5 2125.0 L1146.1 2131.0 L1169.7 2138.0 L1193.3 2172.0 L1216.9 2184.0 L1240.5 2196.0 L1264.2 2241.0 L1287.8 2261.0 L1311.4 2280.0 L1335.0 2308.0 L1358.6 2321.0 L1382.2 2334.0 L1405.9 2372.0 L1429.5 2395.0 L1453.1 2419.0 L1476.7 2472.0 L1500.3 2479.0 L1524.0 2486.0 L1547.6 2505.0 L1571.2 2524.0 L1594.8 2569.0 L1618.4 2585.0 L1642.0 2601.0 L1665.7 2641.0 L1689.3 2656.0 L1712.9 2670.0 L1736.5 2677.0" stroke="#ff0000" fill="none" stroke-width="10" stroke-linejoin="miter" stroke-linecap="butt"/>
<path d="M366.7 2897.8 L390.4 2830.8 L414.0 2778.9 L437.6 2735.7 L461.2 2653.0 L484.8 2611.4 L508.4 2553.0 L532.0 2467.5 L555.7 2406.8 L579.3 2361.5 L602.9 2329.7 L626.5 2294.6 L650.1 2247.7 L673.8 2205.5 L697.4 2176.4 L721.0 2143.8 L744.6 2123.0 L768.2 2103.3 L791.8 2072.6 L815.5 2062.8 L839.1 2054.8 L862.7 2045.8 L886.3 2041.0 L909.9 2041.8 L933.5 2048.3 L957.1 2047.0 L980.8 2048.9 L1004.4 2079.0 L1028.0 2081.8 L1051.6 2085.5 L1075.2 2091.4 L1098.8 2101.6 L1122.5 2123.0 L1146.1 2132.5 L1169.7 2145.4 L1193.3 2169.4 L1216.9 2189.9 L1240.5 2214.3 L1264.2 2244.8 L1287.8 2264.5 L1311.4 2285.6 L1335.0 2311.5 L1358.6 2326.3 L1382.2 2346.6 L1405.9 2395.9 L1429.5 2418.3 L1453.1 2435.4 L1476.7 2478.2 L1500.3 2492.3 L1524.0 2504.8 L1547.6 2524.8 L1571.2 2550.1 L1594.8 2582.4 L1618.4 2607.4 L1642.0 2632.7 L1665.7 2664.5 L1689.3 2675.0 L1712.9 2685.1 L1736.5 2705.6" stroke="#0000ff" stroke-dasharray="10 7" fill="none" stroke-width="10" stroke-linejoin="miter" stroke-linecap="butt"/>
<path d="M366.7 2871.9 L390.4 2801.9 L414.0 2739.9 L437.6 2683.0 L461.2 2611.0 L484.8 2560.6 L508.4 2509.8 L532.0 2442.7 L555.7 2388.2 L579.3 2345.0 L602.9 2316.2 L626.5 2279.1 L650.1 2218.9 L673.8 2185.9 L697.4 2155.3 L721.0 2122.7 L744.6 2103.1 L768.2 2086.6 L791.8 2066.8 L815.5 2053.2 L839.1 2044.3 L862.7 2048.5 L886.3 2046.4 L909.9 2043.4 L933.5 2047.8 L957.1 2060.4 L980.8 2067.1 L1004.4 2072.7 L1028.0 2080.0 L1051.6 2090.4 L1075.2 2102.7 L1098.8 2115.8 L1122.5 2129.0 L1146.1 2146.5 L1169.7 2168.4 L1193.3 2189.9 L1216.9 2210.4 L1240.5 2228.3 L1264.2 2251.8 L1287.8 2277.7 L1311.4 2303.6 L1335.0 2329.8 L1358.6 2357.4 L1382.2 2383.2 L1405.9 2417.7 L1429.5 2435.6 L1453.1 2455.8 L1476.7 2496.6 L1500.3 2517.6 L1524.0 2537.8 L1547.6 2559.9 L1571.2 2579.9 L1594.8 2599.7 L1618.4 2614.8 L1642.0 2633.0 L1665.7 2667.3 L1689.3 2683.6 L1712.9 2699.5 L1736.5 2717.6" stroke="#dd8800" stroke-dasharray="26 15 10 16" fill="none" stroke-width="10" stroke-linejoin="miter" stroke-linecap="butt"/>
<path d="M343.1 2922.8 L366.7 2840.9 L390.4 2745.6 L414.0 2714.6 L437.6 2662.8 L461.2 2584.5 L484.8 2531.5 L508.4 2489.0 L532.0 2411.3 L555.7 2362.7 L579.3 2317.8 L602.9 2283.5 L626.5 2242.7 L650.1 2200.7 L673.8 2166.9 L697.4 2142.5 L721.0 2105.6 L744.6 2088.0 L768.2 2070.7 L791.8 2059.8 L815.5 2051.8 L839.1 2045.4 L862.7 2043.2 L886.3 2045.8 L909.9 2046.5 L933.5 2048.2 L957.1 2056.7 L980.8 2063.1 L1004.4 2068.5 L1028.0 2090.7 L1051.6 2103.9 L1075.2 2108.1 L1098.8 2103.9 L1122.5 2149.2 L1146.1 2162.4 L1169.7 2182.2 L1193.3 2201.7 L1216.9 2219.2 L1240.5 2239.5 L1264.2 2270.9 L1287.8 2292.2 L1311.4 2318.0 L1335.0 2344.5 L1358.6 2364.3 L1382.2 2377.6 L1405.9 2425.7 L1429.5 2448.0 L1453.1 2473.1 L1476.7 2519.0 L1500.3 2545.3 L1524.0 2558.9 L1547.6 2575.1 L1571.2 2595.1 L1594.8 2617.2 L1618.4 2633.9 L1642.0 2650.2 L1665.7 2674.9 L1689.3 2699.1 L1712.9 2717.7 L1736.5 2734.6" stroke="#00cc00" stroke-dasharray="43 40" fill="none" stroke-width="10" stroke-linejoin="miter" stroke-linecap="butt"/>
</g>
<rect x="319.5" y="1648.5" width="1417.0" height="1179.0" fill="none" stroke="#000" stroke-width="5"/>
<path d="M319.5 2630.5H374.5M1736.5 2630.5H1681.5M319.5 2433.5H374.5M1736.5 2433.5H1681.5M319.5 2237.5H374.5M1736.5 2237.5H1681.5M319.5 2041.5H374.5M1736.5 2041.5H1681.5M319.5 1844.5H374.5M1736.5 1844.5H1681.5M556.5 2827.5V2772.5M556.5 1648.5V1703.5M792.5 2827.5V2772.5M792.5 1648.5V1703.5M1028.5 2827.5V2772.5M1028.5 1648.5V1703.5M1264.5 2827.5V2772.5M1264.5 1648.5V1703.5M1500.5 2827.5V2772.5M1500.5 1648.5V1703.5" stroke="#000" stroke-width="5" fill="none"/>
<text x="293.5" y="2852.0" font-size="77" text-anchor="end">0.6</text>
<text x="293.5" y="2655.5" font-size="77" text-anchor="end">0.7</text>
<text x="293.5" y="2459.0" font-size="77" text-anchor="end">0.8</text>
<text x="293.5" y="2262.5" font-size="77" text-anchor="end">0.9</text>
<text x="293.5" y="2066.0" font-size="77" text-anchor="end">1.0</text>
<text x="293.5" y="1869.5" font-size="77" text-anchor="end">1.1</text>
<text x="293.5" y="1673.0" font-size="77" text-anchor="end">1.2</text>
<text x="321.5" y="2923" font-size="77" text-anchor="middle">1.0</text>
<text x="557.7" y="2923" font-size="77" text-anchor="middle">1.1</text>
<text x="793.8" y="2923" font-size="77" text-anchor="middle">1.2</text>
<text x="1030.0" y="2923" font-size="77" text-anchor="middle">1.3</text>
<text x="1266.2" y="2923" font-size="77" text-anchor="middle">1.4</text>
<text x="1502.3" y="2923" font-size="77" text-anchor="middle">1.5</text>
<text x="1738.5" y="2923" font-size="77" text-anchor="middle">1.6</text>
<text transform="translate(88,2279.5) rotate(-90) scale(0.983,1)" font-size="77" text-anchor="middle">Normalized structure function, S(Q)/S<tspan font-size="52" dy="16">max</tspan></text>
<text transform="translate(922.5,3116) scale(0.95,1)" font-size="77">Q</text>
<text transform="translate(1025,3116) scale(1.08,1)" font-size="70" style="font-family:'Liberation Sans',sans-serif">&#197;</text>
<text x="1089" y="3067" font-size="52">-1</text>
<text x="2173" y="2800" font-size="86" text-anchor="middle">(<tspan font-weight="bold">b</tspan>)</text>
<g transform="translate(-488,2090)">
<rect x="1195.5" y="142.5" width="466" height="530" fill="#fff" stroke="#000" stroke-width="5"/>
<text transform="translate(1204,219) scale(0.984,1)" font-size="77">Applied stress</text>
<text transform="translate(1204,304) scale(0.99,1)" font-size="77">(MPa)</text>
<path d="M1216 366.5H1355" stroke="#ff0000" stroke-width="10"/>
<path d="M1217 452H1355" stroke="#0000ff" stroke-width="10" stroke-linecap="round" stroke-dasharray="0 17"/>
<path d="M1217 537H1355" stroke="#dd8800" stroke-width="10" stroke-linecap="round" stroke-dasharray="16 25 0 26"/>
<path d="M1217 621.5H1355" stroke="#00cc00" stroke-width="10" stroke-linecap="round" stroke-dasharray="33 50"/>
<text x="1516" y="389" font-size="77" text-anchor="end">0.5</text>
<text x="1480" y="474" font-size="77" text-anchor="middle">11</text>
<text x="1480" y="558" font-size="77" text-anchor="middle">22</text>
<text x="1479" y="643" font-size="77" text-anchor="middle">33</text>
</g>
</svg></body></html>
